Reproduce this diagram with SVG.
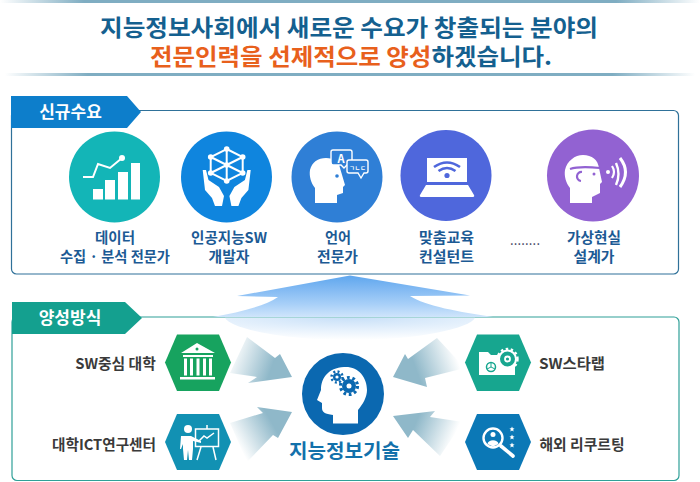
<svg xmlns="http://www.w3.org/2000/svg" width="700" height="482" viewBox="0 0 700 482">
<style>
text{font-family:"Noto Sans CJK KR","Noto Sans",sans-serif;font-weight:700;text-anchor:middle}
.t1{font-size:22.5px;fill:#14608f}
.lab{font-size:14.5px;fill:#1c5a94}
.tab{font-size:17px;fill:#fff}
.side{font-size:14.8px;fill:#3a3a3a}
.w{fill:#fff}
.ws{fill:none;stroke:#fff}
</style>
<defs>
<linearGradient id="band" x1="0" x2="1" y1="0" y2="0"><stop offset="0" stop-color="#7fadc2" stop-opacity="0"/><stop offset=".12" stop-color="#7fadc2"/><stop offset=".88" stop-color="#7fadc2"/><stop offset="1" stop-color="#7fadc2" stop-opacity="0"/></linearGradient>
<linearGradient id="up" x1="0" x2="0" y1="0" y2="1"><stop offset="0" stop-color="#5fa6ee"/><stop offset=".7" stop-color="#a9d0f8"/><stop offset="1" stop-color="#cfe5fb"/></linearGradient>
<radialGradient id="fade" cx=".5" cy="0" r="1" fx=".5" fy="0"><stop offset="0" stop-color="#c8e0f8"/><stop offset=".5" stop-color="#e4f0fc"/><stop offset="1" stop-color="#fff"/></radialGradient>
<linearGradient id="a1" gradientUnits="userSpaceOnUse" x1="232" y1="352" x2="282" y2="370"><stop offset="0" stop-color="#8fb8c9" stop-opacity="0"/><stop offset=".8" stop-color="#8fb8c9"/></linearGradient>
<linearGradient id="a2" gradientUnits="userSpaceOnUse" x1="238" y1="445" x2="282" y2="420"><stop offset="0" stop-color="#8fb8c9" stop-opacity="0"/><stop offset=".8" stop-color="#8fb8c9"/></linearGradient>
<linearGradient id="a3" gradientUnits="userSpaceOnUse" x1="455" y1="352" x2="405" y2="370"><stop offset="0" stop-color="#8fb8c9" stop-opacity="0"/><stop offset=".8" stop-color="#8fb8c9"/></linearGradient>
<linearGradient id="a4" gradientUnits="userSpaceOnUse" x1="452" y1="442" x2="405" y2="422"><stop offset="0" stop-color="#8fb8c9" stop-opacity="0"/><stop offset=".8" stop-color="#8fb8c9"/></linearGradient>
<path id="star" d="M0-2.600L.8-.8L2.600-.6L1.200.6L1.600 2.400L0 1.400L-1.600 2.400L-1.200.6L-2.600-.6L-.8-.8Z" fill="#fff"/>
</defs>
<rect width="700" height="482" fill="#fff"/>
<rect x="0" y="0" width="700" height="3" fill="url(#band)"/>
<rect x="5" y="73" width="690" height="3" fill="url(#band)"/>

<g id="title">
<text class="t1" x="349" y="35.500" textLength="498" lengthAdjust="spacingAndGlyphs">지능정보사회에서 새로운 수요가 창출되는 분야의</text>
<text x="351" y="65" textLength="402" lengthAdjust="spacingAndGlyphs" style="font-size:22.5px;fill:#14608f"><tspan fill="#e8601c">전문인력을 선제적으로 양성</tspan>하겠습니다.</text>
</g>

<g id="panel-new">
<rect x="11.500" y="110.500" width="667" height="163.500" rx="5" fill="#fff" stroke="#2f7199" stroke-width="1.200"/>
<path d="M11 96H127L141 112L127 128H11Z" fill="#0d7ecb"/>
<text class="tab" x="70.500" y="118">신규수요</text>
</g>

<g id="panel-method">
<rect x="12" y="317" width="667" height="163.500" rx="5" fill="#fff" stroke="#2fa098" stroke-width="1.200"/>
<path d="M12 302H125L142 318L125 334H12Z" fill="#14a08f"/>
<text class="tab" x="70" y="324">양성방식</text>
</g>

<g id="connectors">
<path d="M225 317.700H475C470 328 420 340 350 340C280 340 230 328 225 317.700Z" fill="url(#fade)"/>
<path d="M350 275.500L470 295.500L410 296C425 306 460 312 493 317H213C240 312 265 306 278 297L237 296Z" fill="url(#up)"/>
<path d="M247 337L275 358L280 354L292 377L248 383L257 377L230 373Z" fill="url(#a1)"/>
<path d="M292 412L257 407L263 413L230 423L247 462L273 435L278 438Z" fill="url(#a2)"/>
<path d="M393 377L405 354L408 359L437 338L465 368L425 378L427 387Z" fill="url(#a3)"/>
<path d="M393 416L435 411L430 417L463 422L440 456L413 430L408 438Z" fill="url(#a4)"/>
</g>

<g id="node-data">
<circle cx="114.500" cy="177" r="45.500" fill="#13b5b7"/>
<path class="w" d="M93 189H103V199.500H93ZM105 180H115V199.500H105ZM118 172H128V199.500H118ZM131 163H140V199.500H131Z"/>
<path class="ws" stroke-width="2" d="M83 177H93L98 164L110 168L122 158"/>
<circle class="w" cx="122" cy="158" r="3"/>
<text class="lab" x="115" y="243" textLength="40" lengthAdjust="spacingAndGlyphs">데이터</text>
<text class="lab" x="115" y="262" textLength="110" lengthAdjust="spacingAndGlyphs">수집 · 분석 전문가</text>
</g>

<g id="node-ai">
<circle cx="226.500" cy="177" r="45.500" fill="#0f85de"/>
<path class="ws" stroke-width="2" d="M226.700 149L242.700 157V173L226.700 181L210.700 173V157ZM226.700 149V181M210.700 157L242.700 173M242.700 157L210.700 173"/>
<g class="w"><circle cx="226.700" cy="149" r="2.800"/><circle cx="242.700" cy="157" r="2.800"/><circle cx="242.700" cy="173" r="2.800"/><circle cx="226.700" cy="181" r="2.800"/><circle cx="210.700" cy="173" r="2.800"/><circle cx="210.700" cy="157" r="2.800"/><circle cx="226.700" cy="165" r="2.800"/></g>
<path class="w" d="M202.700 170H206L208.500 180L219 187L224 196L222 206L215 206L212 198L205 190Z"/>
<path class="w" d="M250.700 170H247.400L244.900 180L234.400 187L229.400 196L231.400 206L238.400 206L241.400 198L248.400 190Z"/>
<text class="lab" x="229" y="243" textLength="76" lengthAdjust="spacingAndGlyphs">인공지능SW</text>
<text class="lab" x="229" y="262" textLength="41" lengthAdjust="spacingAndGlyphs">개발자</text>
</g>

<g id="node-language">
<circle cx="337" cy="177" r="45.500" fill="#2f7fd6"/>
<path class="w" d="M315 203V188C311 183 309 176 310 170C312 162 318 158 326 158C334 158 339 162 340 168L345 185L343 187V193L337 195V203Z"/>
<circle cx="337" cy="176" r="1.800" fill="#2f7fd6"/>
<path class="ws" stroke-width="1.400" d="M333 150H350Q352 150 352 152V162Q352 165 350 165H347L344 168L341 165H333Q331 165 331 162V152Q331 150 333 150Z" style="fill:#2f7fd6"/>
<text x="341" y="163" style="font-size:11px;fill:#fff">A</text>
<path class="ws" stroke-width="1.400" d="M349 160H366Q368 160 368 162V171Q368 173 366 173H364L361 178L358 173H349Q347 173 347 171V162Q347 160 349 160Z" style="fill:#2f7fd6"/>
<text x="357.500" y="170" style="font-size:6px;fill:#fff">ㄱㄴㄷ</text>
<text class="lab" x="338" y="243" textLength="26" lengthAdjust="spacingAndGlyphs">언어</text>
<text class="lab" x="337.500" y="262" textLength="41" lengthAdjust="spacingAndGlyphs">전문가</text>
</g>

<g id="node-consult">
<circle cx="446" cy="175.500" r="45.500" fill="#4f67dc"/>
<rect class="w" x="427" y="158" width="40" height="24"/>
<path class="w" d="M426 185H468L474 195Q475 197 472 197H422Q419 197 420 195Z"/>
<g fill="none" stroke="#4f67dc" stroke-width="2.600"><path d="M434 167Q447 158 460 167"/><path d="M438.500 171Q447 165 455.500 171"/></g>
<circle cx="447" cy="175.500" r="2.600" fill="#4f67dc"/>
<text class="lab" x="446.500" y="243" textLength="55" lengthAdjust="spacingAndGlyphs">맞춤교육</text>
<text class="lab" x="446.500" y="262" textLength="55" lengthAdjust="spacingAndGlyphs">컨설턴트</text>
</g>

<text class="lab" x="525" y="245" textLength="30" style="font-size:13px;font-weight:400;fill:#335">........</text>

<g id="node-vr">
<circle cx="593" cy="175.500" r="46" fill="#9262d2"/>
<path class="w" d="M570 203V188C566 183 564 176 565 170C567 161 575 155 583 155C592 155 598 160 599 168L602 182L600 184V193L592 197V203Z"/>
<path fill="none" stroke="#9262d2" stroke-width="2.200" d="M570 169C576 167 590 167 600 168M581 181A4.500 4.500 0 1 1 582 172"/>
<circle cx="594" cy="174" r="1.500" fill="#9262d2"/>
<circle class="w" cx="608" cy="172" r="2"/>
<path class="ws" stroke-width="2.200" d="M612 166Q616 172 612 178"/>
<path class="ws" stroke-width="2.400" d="M616 163Q621 174 616 185"/>
<path class="ws" stroke-width="3" d="M620 158Q631 172 620 187"/>
<text class="lab" x="594" y="243" textLength="54" lengthAdjust="spacingAndGlyphs">가상현실</text>
<text class="lab" x="594" y="262" textLength="41" lengthAdjust="spacingAndGlyphs">설계가</text>
</g>

<g id="node-sw-univ">
<path d="M165 362.500L177 334.500H219L231 362.500L219 391H177Z" fill="#17a35f"/>
<path class="w" d="M197 343L181 353H215ZM183 355H213V357H183ZM180 377H215V379.500H180Z"/>
<path class="w" d="M184 358.500h3v17h-3zM190 358.500h3v17h-3zM196.500 358.500h3v17h-3zM203 358.500h3v17h-3zM209 358.500h3v17h-3z"/>
<circle cx="197" cy="349" r="1.500" fill="#17a35f"/>
<text class="side" x="115.500" y="369">SW중심 대학</text>
</g>

<g id="node-ict">
<path d="M165 442L177 414H219L231 442L219 470H177Z" fill="#1291b3"/>
<circle class="w" cx="188" cy="429" r="4"/>
<path class="w" d="M181 436H191L201 441V443L193 441V449L192 460H189L188 450L187 460H184L183 449V444L181 449L180 449Z"/>
<rect class="ws" x="195.500" y="429" width="23" height="17.500" stroke-width="1.500"/>
<path class="ws" stroke-width="1.500" d="M207 425V429M201 447L197 460M213 447L216 460M199 441L204 436L207 438L214 433"/>
<text class="side" x="104" y="450" textLength="104" lengthAdjust="spacingAndGlyphs">대학ICT연구센터</text>
</g>

<g id="node-startup">
<path d="M465 362.500L477 334.500H519L531 362.500L519 391H477Z" fill="#17a68f"/>
<path class="w" d="M479 352H488L491 355H515V375H479Z"/>
<circle cx="507.500" cy="359" r="8.500" fill="#17a68f" stroke="#fff" stroke-width="2"/>
<circle cx="507.500" cy="359" r="10" fill="none" stroke="#fff" stroke-width="2.400" stroke-dasharray="2.500 2.500"/>
<circle cx="507.500" cy="359" r="2.500" fill="none" stroke="#fff" stroke-width="1.800"/>
<circle cx="491" cy="367" r="4.500" fill="none" stroke="#17a68f" stroke-width="1.500"/>
<path d="M491 367V362.500M491 367L495 369M491 367L487 369" stroke="#17a68f" stroke-width="1"/>
<text class="side" x="572" y="369" textLength="66" lengthAdjust="spacingAndGlyphs">SW스타랩</text>
</g>

<g id="node-recruit">
<path d="M465 442L477 414H519L531 442L519 470H477Z" fill="#0b78b6"/>
<circle cx="493" cy="438" r="9.500" fill="none" stroke="#fff" stroke-width="2.400"/>
<circle class="w" cx="493" cy="434.500" r="2.500"/>
<path class="w" d="M487.500 444C488 439 498 439 498.500 444L493 446.500Z"/>
<path class="ws" stroke-width="3.600" stroke-linecap="round" d="M501 446L513 456"/>
<use href="#star" x="512" y="429"/><use href="#star" x="512" y="437"/><use href="#star" x="512" y="445"/>
<text class="side" x="582" y="450">해외 리쿠르팅</text>
</g>

<g id="node-core">
<circle cx="343" cy="394" r="41" fill="#0b68b0"/>
<path class="w" d="M333 423.500V415C325 414 322 412 322 408V403L317 400L321 390C321 378 328 368 344 367C358 366 367 377 367 390C367 397 363 404 358 410V423.500Z"/>
<circle cx="337" cy="377" r="4" fill="#0b68b0"/>
<circle cx="337" cy="377" r="5.500" fill="none" stroke="#0b68b0" stroke-width="2.500" stroke-dasharray="2 2.300"/>
<circle cx="337" cy="377" r="1.600" fill="#fff"/>
<circle cx="349" cy="386" r="7" fill="#0b68b0"/>
<circle cx="349" cy="386" r="8.500" fill="none" stroke="#0b68b0" stroke-width="3.200" stroke-dasharray="2.700 2.700"/>
<circle cx="349" cy="386" r="2.500" fill="#fff"/>
<text x="344.500" y="458" textLength="111" lengthAdjust="spacingAndGlyphs" style="font-size:19.500px;fill:#1271ab">지능정보기술</text>
</g>
</svg>
